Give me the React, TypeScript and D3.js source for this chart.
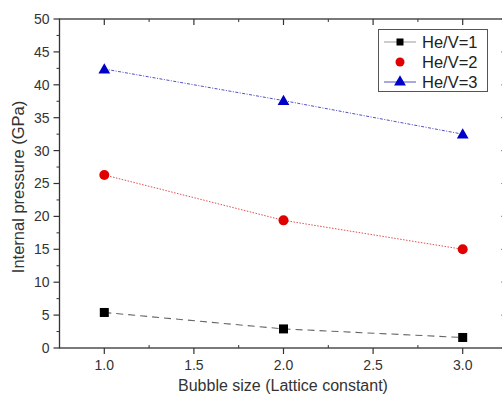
import React from "react";
import * as d3 from "d3";

const xValues = [1.0, 2.0, 3.0];
const seriesNames = ["He/V=1", "He/V=2", "He/V=3"];
const hev1 = [5.4, 2.9, 1.6];
const hev2 = [26.3, 19.4, 15.0];
const hev3 = [42.4, 37.6, 32.5];
const xTicks = [1.0, 1.5, 2.0, 2.5, 3.0];
const yTicks = [0, 5, 10, 15, 20, 25, 30, 35, 40, 45, 50];

const W = 502, H = 397;
const left = 59.5, right = 507.5, top = 19, bottom = 348;

export default function App() {
  const x = d3.scaleLinear().domain([0.75, 3.25]).range([left, right]);
  const y = d3.scaleLinear().domain([0, 50]).range([bottom, top]);
  const line = d3.line<[number, number]>().x(d => x(d[0])).y(d => y(d[1]));
  const font = "'Liberation Sans', Arial, sans-serif";
  const series = [
    { name: seriesNames[0], vals: hev1, color: "#000", lineColor: "#666", dash: "7,5", width: 1.1, shape: "square" },
    { name: seriesNames[1], vals: hev2, color: "#e00000", lineColor: "#e05050", dash: "1.5,1.5", width: 1, shape: "circle" },
    { name: seriesNames[2], vals: hev3, color: "#0000c8", lineColor: "#5050c8", dash: "3,1.5,1,1.5", width: 1, shape: "triangle" },
  ];
  const marker = (shape: string, cx: number, cy: number, color: string, key?: string) => {
    if (shape === "square") return <rect key={key} x={cx - 4.5} y={cy - 4.5} width={9} height={9} fill={color} />;
    if (shape === "circle") return <circle key={key} cx={cx} cy={cy} r={5} fill={color} />;
    const s = d3.symbol().type(d3.symbolTriangle).size(60)();
    return <path key={key} d={s!} transform={`translate(${cx},${cy + 1})`} fill={color} />;
  };
  const minorX = d3.range(0.75, 3.26, 0.25).filter(v => Math.abs((v * 2) - Math.round(v * 2)) > 0.01);
  const minorY = d3.range(2.5, 50, 5);
  return (
    <svg width={W} height={H} style={{ position: "absolute", left: 0, top: 0, background: "#fff" }}>
      <rect x={0} y={0} width={W} height={H} fill="#fff" />
      {/* frame */}
      <rect x={left} y={top} width={right - left} height={bottom - top} fill="none" stroke="#333" strokeWidth={1.3} />
      {/* y ticks */}
      {yTicks.map(t => (
        <g key={"y" + t}>
          <line x1={left - 6} x2={left} y1={y(t)} y2={y(t)} stroke="#333" strokeWidth={1.2} />
          <line x1={right} x2={right - 6} y1={y(t)} y2={y(t)} stroke="#333" strokeWidth={1.2} />
          <text x={left - 10} y={y(t)} dy="0.35em" textAnchor="end" fontSize={14} fill="#333" fontFamily={font}>{t}</text>
        </g>
      ))}
      {minorY.map(t => (
        <g key={"my" + t}>
          <line x1={left - 3} x2={left} y1={y(t)} y2={y(t)} stroke="#333" strokeWidth={1} />
          <line x1={right} x2={right - 3} y1={y(t)} y2={y(t)} stroke="#333" strokeWidth={1} />
        </g>
      ))}
      {/* x ticks */}
      {xTicks.map(t => (
        <g key={"x" + t}>
          <line x1={x(t)} x2={x(t)} y1={bottom} y2={bottom + 6} stroke="#333" strokeWidth={1.2} />
          <line x1={x(t)} x2={x(t)} y1={top} y2={top + 6} stroke="#333" strokeWidth={1.2} />
          <text x={x(t)} y={bottom + 22} textAnchor="middle" fontSize={14} fill="#333" fontFamily={font}>{t.toFixed(1)}</text>
        </g>
      ))}
      {minorX.map(t => (
        <g key={"mx" + t}>
          <line x1={x(t)} x2={x(t)} y1={bottom} y2={bottom - 3} stroke="#333" strokeWidth={1} />
          <line x1={x(t)} x2={x(t)} y1={top} y2={top + 3} stroke="#333" strokeWidth={1} />
        </g>
      ))}
      {/* series */}
      {series.map(s => {
        const pts = xValues.map((xv, i) => [xv, s.vals[i]] as [number, number]);
        return (
          <g key={s.name}>
            <path d={line(pts)!} fill="none" stroke={s.lineColor} strokeWidth={s.width} strokeDasharray={s.dash} />
            {pts.map((p, i) => marker(s.shape, x(p[0]), y(p[1]), s.color, s.name + i))}
          </g>
        );
      })}
      {/* legend */}
      <rect x={378.5} y={29.5} width={109} height={62} fill="#fff" stroke="#555" strokeWidth={1} />
      {series.map((s, i) => {
        const cy = 42 + i * 20;
        return (
          <g key={"lg" + s.name}>
            {i !== 1 && <line x1={384} x2={416} y1={cy} y2={cy} stroke={i === 0 ? "#999" : "#5050c8"} strokeWidth={1} />}
            {s.shape === "square"
              ? <rect x={400 - 3.5} y={cy - 3.5} width={7} height={7} fill={s.color} />
              : s.shape === "circle"
                ? <circle cx={400} cy={cy} r={4.5} fill={s.color} />
                : marker(s.shape, 400, cy - 1, s.color)}
            <text x={422} y={cy} dy="0.36em" fontSize={16.5} fill="#222" fontFamily={font}>{s.name}</text>
          </g>
        );
      })}
      {/* axis titles */}
      <text x={283} y={391} textAnchor="middle" fontSize={16} fill="#333" fontFamily={font}>Bubble size (Lattice constant)</text>
      <text transform={`translate(24,187) rotate(-90)`} textAnchor="middle" fontSize={16.5} fill="#333" fontFamily={font}>Internal pressure (GPa)</text>
    </svg>
  );
}
